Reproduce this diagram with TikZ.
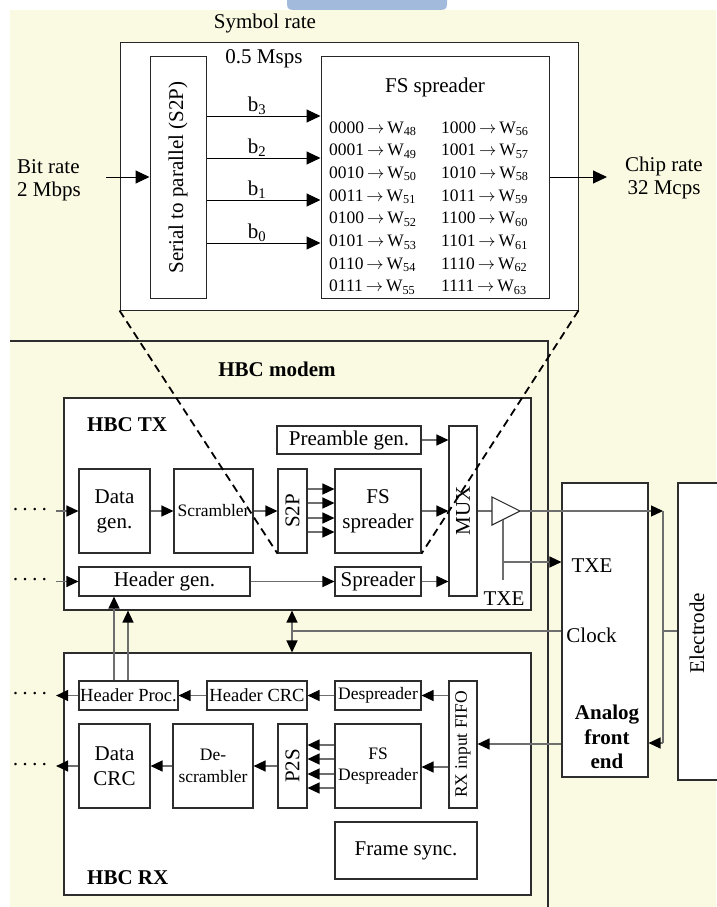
\documentclass[tikz,border=0pt]{standalone}
\usepackage{fontspec}
\usepackage{graphicx}
\setmainfont{Liberation Serif}
\usetikzlibrary{arrows.meta}
\definecolor{bgyellow}{RGB}{250,249,226}
\definecolor{blob}{RGB}{162,186,220}
\definecolor{edge}{RGB}{45,45,45}
\definecolor{wire}{RGB}{110,110,110}
\begin{document}
\begin{tikzpicture}[x=1pt,y=-1pt,
  big/.style={font=\fontsize{21}{25}\selectfont},
  bigbold/.style={font=\fontsize{21}{24.5}\selectfont\bfseries},
  mid/.style={font=\fontsize{18.5}{22}\selectfont},
  small/.style={font=\fontsize{17.5}{21.5}\selectfont},
  box/.style={draw=edge, line width=1.1pt, fill=white, inner sep=0pt, align=center},
  arr/.style={draw=wire, line width=1.3pt, -{Triangle[length=12pt,width=11pt,color=black]}},
  arr2/.style={draw=wire, line width=1.3pt, {Triangle[length=12pt,width=11pt,color=black]}-{Triangle[length=12pt,width=11pt,color=black]}},
  arrk/.style={draw=black, line width=1pt, -{Triangle[length=14pt,width=13pt]}},
  wireline/.style={draw=wire, line width=1.3pt},
  lbl/.style={inner sep=0pt, big},
  dotsn/.style={big, inner xsep=8pt, inner ysep=0pt, anchor=base},
  zoomline/.style={draw=black, line width=1.8pt, dash pattern=on 8pt off 5pt}
]
% background
\fill[white] (0,0) rectangle (716,907);
\fill[bgyellow] (10,10) rectangle (716,907);
\fill[blob] (287,0) -- (287,4) .. controls (287,10) and (290,10) .. (297,10) -- (437,10) .. controls (444,10) and (447,10) .. (447,4) -- (447,0) -- cycle;
\useasboundingbox (0,0) rectangle (716,907);

% ---------- top zoomed part ----------
\node[lbl] (symrate) at (265,23) {Symbol rate};
\node[box, line width=1pt, draw=black!85, minimum width=458pt, minimum height=267pt] (zoombox) at (349,176.5) {};
\node[box, big, line width=1pt, draw=black!85, minimum width=56pt, minimum height=241pt] (s2pbig) at (178,177.5) {\rotatebox{90}{Serial to parallel (S2P)}};
\node[box, line width=1pt, draw=black!85, minimum width=228pt, minimum height=241pt] (fsbig) at (435,177.5) {};
\node[lbl] (fstitle) at (435,87) {FS spreader};
\node[lbl] (msps) at (264,59) {0.5 Msps};

\foreach \a/\b/\c/\d [count=\i] in {0000/48/1000/56,0001/49/1001/57,0010/50/1010/58,0011/51/1011/59,0100/52/1100/60,0101/53/1101/61,0110/54/1110/62,0111/55/1111/63}{
  \node[small, inner sep=0pt, anchor=base west] (ta\i) at (329,{133+22.7*(\i-1)}) {\a\,$\rightarrow$\,W\textsubscript{\b}};
  \node[small, inner sep=0pt, anchor=base west] (tb\i) at (441,{133+22.7*(\i-1)}) {\c\,$\rightarrow$\,W\textsubscript{\d}};
}

\node[lbl, anchor=west, align=left, font=\fontsize{21}{23}\selectfont] (bitrate) at (17,180) {Bit rate\\2 Mbps};
\coordinate (bitin) at (106,177);
\draw[arrk] (bitin) -- (s2pbig.west |- bitin);

\foreach \y/\k in {116/3,158/2,200/1,243/0}{
  \draw[arrk] (s2pbig.east |- 0,\y) -- (fsbig.west |- 0,\y);
  \node[lbl] (b\k) at (257,\y-10) {b\textsubscript{\k}};
}

\coordinate (chipout) at (607,177);
\draw[arrk] (fsbig.east |- chipout) -- (chipout);
\node[lbl, align=center, font=\fontsize{21}{23}\selectfont] (chiprate) at (664,178) {Chip rate\\32 Mcps};

% ---------- modem ----------
\draw[draw=edge, line width=1.1pt] (10,341) -- (548,341) -- (548,907);
\node[lbl, bigbold] (modemlbl) at (277,369) {HBC modem};

% TX
\node[box, minimum width=467pt, minimum height=212pt] (txbox) at (297.5,504) {};
\node[lbl, bigbold, anchor=west] (txlbl) at (87,425) {HBC TX};
\node[box, big, minimum width=144pt, minimum height=28pt] (preamble) at (349,440) {Preamble gen.};
\node[box, big, minimum width=28pt, minimum height=170pt] (mux) at (463,511) {\rotatebox{90}{MUX}};
\node[box, big, minimum width=71pt, minimum height=84pt] (datagen) at (114.5,511) {Data\\gen.};
\node[box, small, minimum width=79pt, minimum height=84pt] (scrambler) at (213.5,511) {Scrambler};
\node[box, big, minimum width=29pt, minimum height=84pt] (s2psmall) at (292.5,511) {\rotatebox{90}{S2P}};
\node[box, big, minimum width=86pt, minimum height=84pt] (fstx) at (378,511) {FS\\spreader};
\node[box, big, minimum width=171pt, minimum height=29pt] (headergen) at (164.5,581.5) {Header gen.};
\node[box, big, minimum width=86pt, minimum height=29pt] (spreader) at (378,581.5) {Spreader};

\node[dotsn] (dtx1) at (30,516) {·\hspace{2.6pt}·\hspace{2.6pt}·\hspace{2.6pt}·};
\node[dotsn] (dtx2) at (30,586.5) {·\hspace{2.6pt}·\hspace{2.6pt}·\hspace{2.6pt}·};
\draw[arr] (dtx1.east |- datagen.west) -- (datagen.west);
\draw[arr] (dtx2.east |- headergen.west) -- (headergen.west);
\draw[arr] (datagen.east) -- (scrambler.west);
\draw[arr] (scrambler.east) -- (s2psmall.west);
\foreach \y in {489,503,518,532}{
  \draw[arr] (s2psmall.east |- 0,\y) -- (fstx.west |- 0,\y);
}
\draw[arr] (fstx.east) -- (mux.west |- fstx.east);
\draw[arr] (preamble.east) -- (mux.west |- preamble.east);
\draw[arr] (headergen.east) -- (spreader.west);
\draw[arr] (spreader.east) -- (mux.west |- spreader.east);

% amplifier
\coordinate (ampin) at (492,511);
\coordinate (ampout) at (520,511);
\coordinate (stemtop) at (503,519.5);
\coordinate (stembot) at (503,580);
\coordinate (txej) at (503,562);
\draw[wireline] (mux.east) -- (ampin);
\draw[draw=edge, line width=1.1pt, fill=white] (492,497) -- (ampout) -- (492,525) -- cycle;
\draw[wireline] (stemtop) -- (stembot);
\node[lbl] (txe1) at (504,599) {TXE};

% AFE and electrode
\node[box, minimum width=86pt, minimum height=294pt] (afe) at (605,630) {};
\node[box, minimum width=80pt, minimum height=297pt] (electrode) at (718,631.5) {};
\node[lbl] (electxt) at (697,633) {\rotatebox{90}{Electrode}};
\node[lbl] (txe2) at (592,566) {TXE};
\node[lbl] (clocklbl) at (591.5,635) {Clock};
\node[lbl, bigbold, align=center] (afelbl) at (607,737) {Analog\\front\\end};

\coordinate (busTop) at (663,511);
\coordinate (busBot) at (663,743);
\coordinate (busMid) at (663,631);
\draw[arr] (ampout) -- (busTop);
\draw[wireline] (busTop) -- (busBot);
\draw[arr] (busBot) -- (afe.east |- busBot);
\draw[wireline] (busMid) -- (electrode.west |- busMid);
\draw[arr] (txej) -- (afe.west |- txej);

% RX
\node[box, minimum width=467pt, minimum height=242pt] (rxbox) at (297.5,774) {};
\node[lbl, bigbold, anchor=west] (rxlbl) at (87,878) {HBC RX};
\node[box, mid, minimum width=99pt, minimum height=29pt] (headerproc) at (128.5,695.5) {Header Proc.};
\node[box, mid, minimum width=100pt, minimum height=29pt] (headercrc) at (257,695.5) {Header CRC};
\node[box, small, minimum width=86pt, minimum height=29pt] (despreader) at (378,695.5) {Despreader};
\node[box, small, minimum width=28pt, minimum height=127pt] (fifo) at (463,744.5) {\rotatebox{90}{RX input FIFO}};
\node[box, big, minimum width=71pt, minimum height=84pt] (datacrc) at (114.5,766) {Data\\CRC};
\node[box, small, minimum width=80pt, minimum height=84pt] (descr) at (213,766) {De-\\scrambler};
\node[box, big, minimum width=29pt, minimum height=84pt] (p2s) at (292.5,766) {\rotatebox{90}{P2S}};
\node[box, small, minimum width=86pt, minimum height=84pt] (fsrx) at (378,766) {FS\\Despreader};
\node[box, big, minimum width=142pt, minimum height=57pt] (framesync) at (406,850.5) {Frame sync.};

\node[dotsn] (drx1) at (30,700.5) {·\hspace{2.6pt}·\hspace{2.6pt}·\hspace{2.6pt}·};
\node[dotsn] (drx2) at (30,771) {·\hspace{2.6pt}·\hspace{2.6pt}·\hspace{2.6pt}·};

\draw[arr] (afe.west |- 0,744) -- (fifo.east |- 0,744);
\draw[arr] (fifo.west |- despreader.east) -- (despreader.east);
\draw[arr] (despreader.west) -- (headercrc.east);
\draw[arr] (headercrc.west) -- (headerproc.east);
\draw[arr] (headerproc.west) -- (drx1.east |- headerproc.west);
\draw[arr] (fifo.west |- 0,767) -- (fsrx.east |- 0,767);
\foreach \y in {745,759,774,788}{
  \draw[arr] (fsrx.west |- 0,\y) -- (p2s.east |- 0,\y);
}
\draw[arr] (p2s.west) -- (descr.east);
\draw[arr] (descr.west) -- (datacrc.east);
\draw[arr] (datacrc.west) -- (drx2.east |- datacrc.west);

% header proc feedback
\draw[arr] (headerproc.north -| 114,0) -- (headergen.south -| 114,0);
\draw[arr] (headerproc.north -| 128,0) -- (txbox.south -| 128,0);

% clock
\coordinate (clockj) at (292,631);
\draw[wireline] (afe.west |- clockj) -- (clockj);
\draw[arr2] (clockj |- txbox.south) -- (clockj |- rxbox.north);

% zoom lines
\draw[zoomline] (zoombox.south west) -- (s2psmall.south west);
\draw[zoomline] (zoombox.south east) -- (fstx.south east);
\end{tikzpicture}
\end{document}
